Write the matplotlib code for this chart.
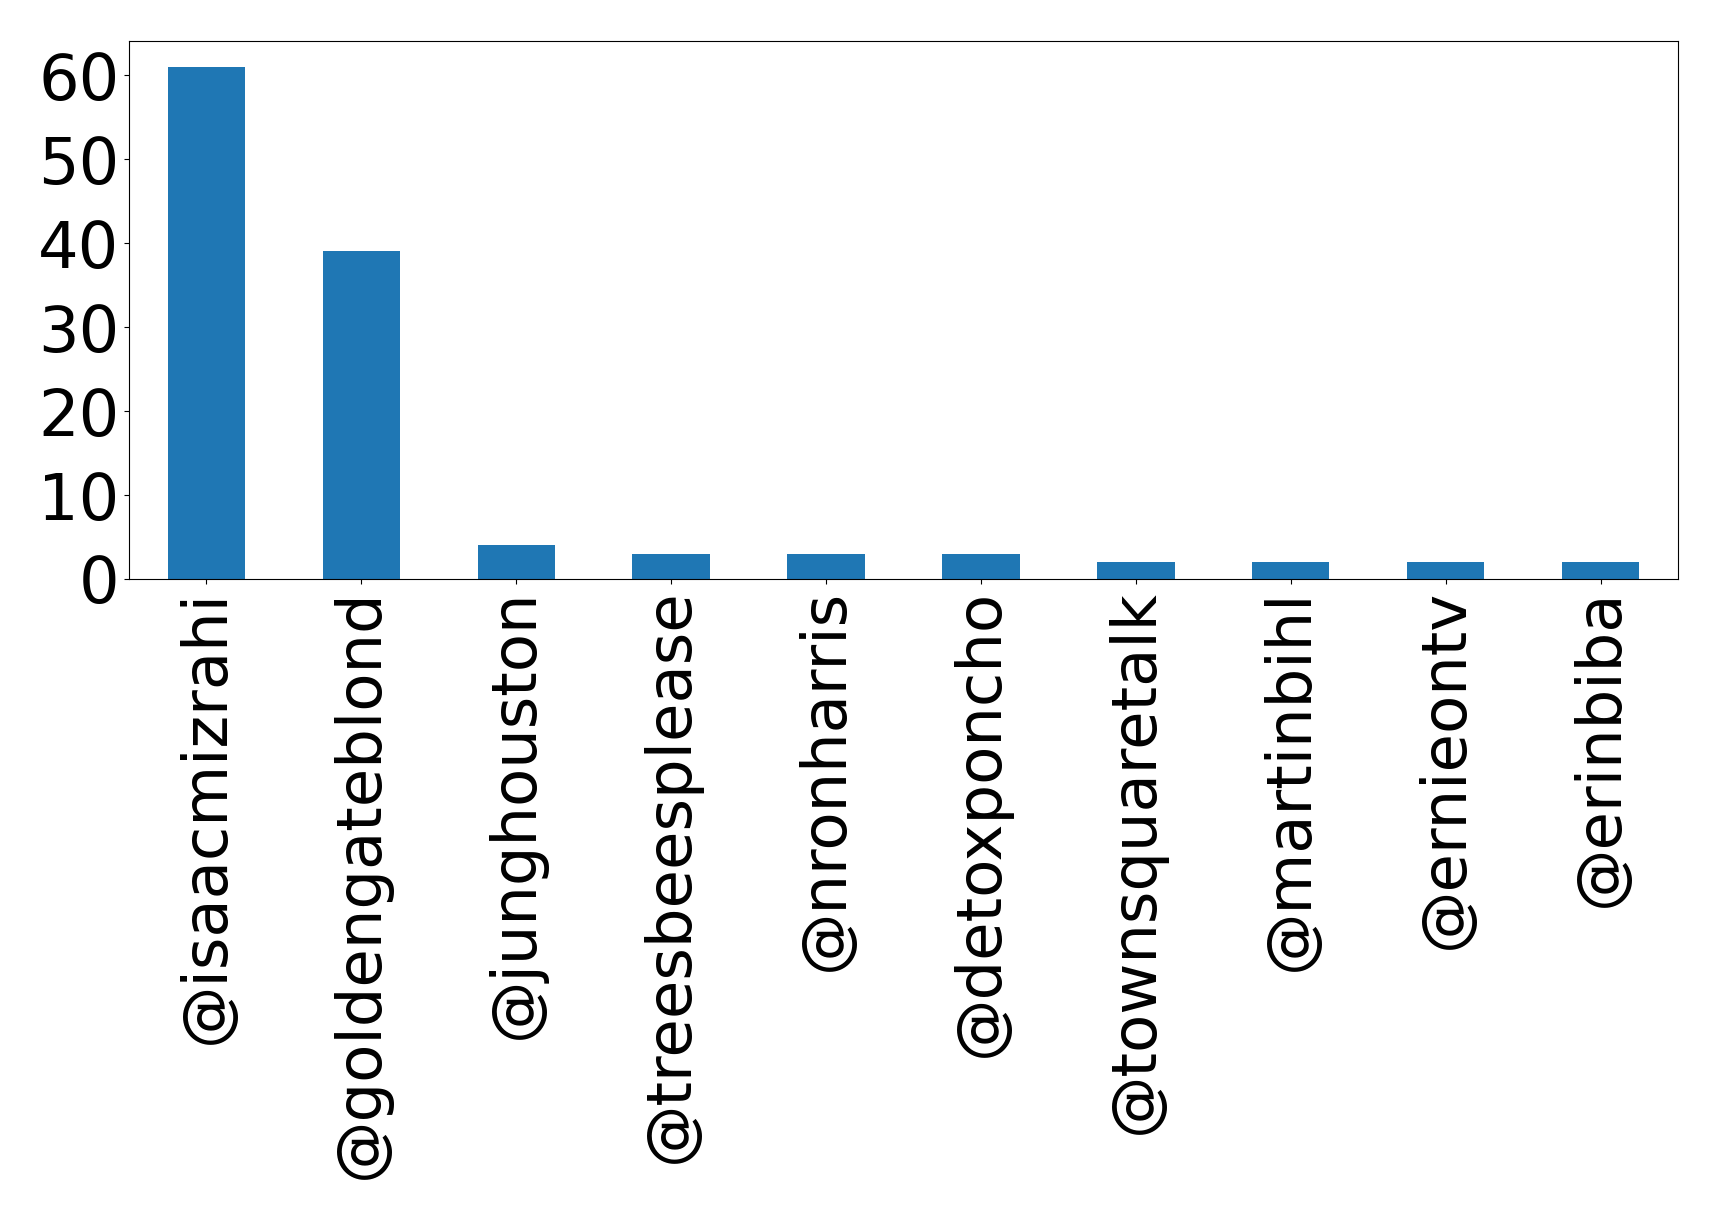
import numpy as np
import matplotlib
matplotlib.use('Agg')
import matplotlib.pyplot as plt

# handles and counts
handles = ['@isaacmizrahi', '@goldengateblond', '@junghouston', '@treesbeesplease',
           '@nronharris', '@detoxponcho', '@townsquaretalk', '@martinbihl',
           '@ernieontv', '@erinbiba']
counts = [61, 39, 4, 3, 3, 3, 2, 2, 2, 2]

fig = plt.figure(figsize=(17.19, 12.19), dpi=100)
ax = fig.add_axes([129/1719, 1 - 579/1219, (1678-129)/1719, (579-41)/1219])

x = np.arange(len(handles))
ax.bar(x, counts, width=0.5, color='#1f77b4')
ax.set_xlim(-0.5, len(handles) - 0.5)
ax.set_ylim(0, max(counts) * 1.05)
ax.set_xticks(x)
ax.set_xticklabels(handles, rotation=90, fontsize=45)
ax.set_yticks([0, 10, 20, 30, 40, 50, 60])
ax.tick_params(axis='y', labelsize=46)

fig.savefig('out.png', dpi=100)
